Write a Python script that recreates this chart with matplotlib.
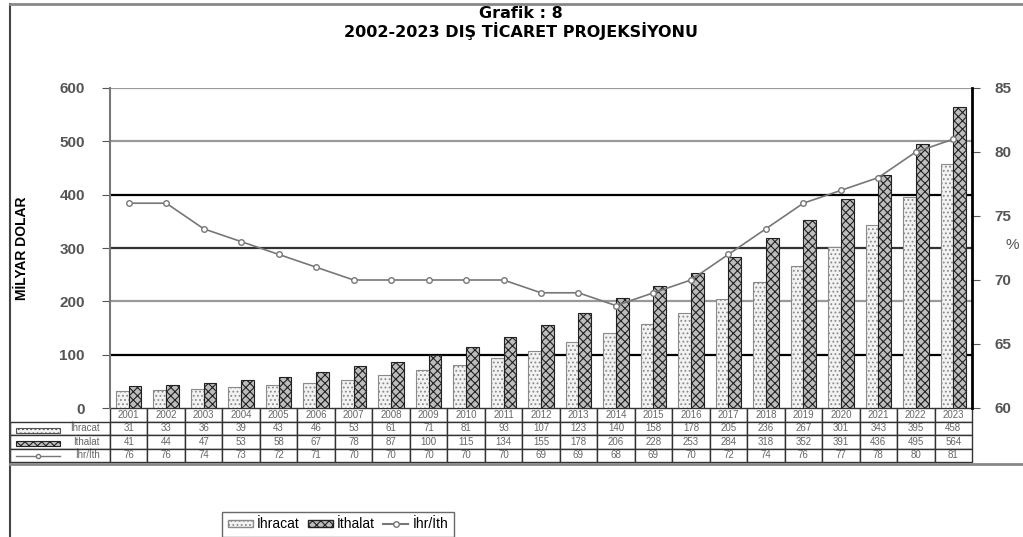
import numpy as np
import matplotlib.pyplot as plt
from matplotlib.patches import Rectangle
from matplotlib.lines import Line2D

plt.rcParams['font.family'] = ['Liberation Sans', 'DejaVu Sans']
plt.rcParams['hatch.linewidth'] = 0.8

years = [str(y) for y in range(2001, 2024)]
ihracat = [31, 33, 36, 39, 43, 46, 53, 61, 71, 81, 93, 107, 123, 140, 158, 178, 205, 236, 267, 301, 343, 395, 458]
ithalat = [41, 44, 47, 53, 58, 67, 78, 87, 100, 115, 134, 155, 178, 206, 228, 253, 284, 318, 352, 391, 436, 495, 564]
oran = [76, 76, 74, 73, 72, 71, 70, 70, 70, 70, 70, 69, 69, 68, 69, 70, 72, 74, 76, 77, 78, 80, 81]
row_names = ['İhracat', 'İthalat', 'İhr/İth']

fig = plt.figure(figsize=(10.23, 5.37), dpi=100)
ax = fig.add_axes([110 / 1023, 1 - 408 / 537, 862 / 1023, 320 / 537])
x = np.arange(len(years))
w = 0.34

# grid lines (alternating dark / grey like the original)
for val, col in [(100, 'black'), (200, '#999999'), (300, '#333333'), (400, 'black'), (500, '#999999'), (600, '#999999')]:
    ax.axhline(val, color=col, lw=1.6, zorder=0)

ax.bar(x - w / 2, ihracat, w, facecolor='#f2f2f2', edgecolor='#8a8a8a', hatch='....', lw=0.8, zorder=2)
ax.bar(x + w / 2, ithalat, w, facecolor='#bdbdbd', edgecolor='#222222', hatch='xxxx', lw=0.8, zorder=2)
ax.set_xlim(-0.5, len(years) - 0.5)
ax.set_ylim(0, 600)
ax.set_yticks(range(0, 601, 100))
ax.set_xticks([])
ax.tick_params(axis='y', labelsize=11, colors='#555555', length=6, pad=12)
for t in ax.get_yticklabels():
    t.set_fontweight('bold')
ax.set_ylabel('MİLYAR DOLAR', fontsize=10, fontweight='bold', labelpad=22)
for s in ['top', 'bottom']:
    ax.spines[s].set_visible(False)
ax.spines['left'].set_color('#777777')
ax.spines['left'].set_linewidth(1.5)
ax.spines['right'].set_visible(False)

ax2 = ax.twinx()
ax2.plot(x, oran, color='#777777', lw=1.2, marker='o', ms=4, mfc='white', mec='#777777', zorder=3)
ax2.set_ylim(60, 85)
ax2.set_yticks(range(60, 86, 5))
ax2.tick_params(axis='y', labelsize=11, colors='#555555', length=6, pad=10)
for t in ax2.get_yticklabels():
    t.set_fontweight('bold')
for s in ['top', 'bottom', 'left']:
    ax2.spines[s].set_visible(False)
ax2.spines['right'].set_color('black')
ax2.spines['right'].set_linewidth(2)
fig.text(1012 / 1023, 1 - 245 / 537, '%', fontsize=11, color='#555555', ha='center', va='center')

# data table under the chart
cells = [[name] + [str(v) for v in vals] for name, vals in zip(row_names, [ihracat, ithalat, oran])]
tbl = ax.table(cellText=cells, colLabels=[''] + years, cellLoc='center',
               bbox=[-100 / 862, -54 / 320, 962 / 862, 54 / 320])
tbl.auto_set_font_size(False)
tbl.set_fontsize(7)
col_w = 862 / len(years)
for (r, c), cell in tbl.get_celld().items():
    cell.set_width(100 if c == 0 else col_w)
    cell.set_edgecolor('#333333')
    cell.set_linewidth(1.0)
    cell.get_text().set_color('#666666')
    if r == 0 and c == 0:
        cell.set_edgecolor('white')
    if c == 0 and r > 0:
        cell.set_text_props(ha='right')
        cell._loc = 'right'

# small legend keys inside the row-label column
key_y = [1 - 430 / 537, 1 - 443 / 537, 1 - 456 / 537]
fig.add_artist(Rectangle((16 / 1023, key_y[0] - 2.5 / 537), 44 / 1023, 5 / 537, transform=fig.transFigure,
                         facecolor='#f2f2f2', edgecolor='#555555', hatch='....', lw=0.8))
fig.add_artist(Rectangle((16 / 1023, key_y[1] - 2.5 / 537), 44 / 1023, 5 / 537, transform=fig.transFigure,
                         facecolor='#bdbdbd', edgecolor='#222222', hatch='xxxx', lw=0.8))
fig.add_artist(Line2D([16 / 1023, 60 / 1023], [key_y[2], key_y[2]], color='#777777', lw=1))
fig.add_artist(Line2D([38 / 1023], [key_y[2]], color='#777777', marker='o', ms=3, mfc='white'))

# title
fig.text(521 / 1023, 1 - 14 / 537, 'Grafik : 8', fontsize=11.5, fontweight='bold', family='DejaVu Sans',
         ha='center', va='center')
fig.text(521 / 1023, 1 - 31 / 537, '2002-2023 DIŞ TİCARET PROJEKSİYONU', fontsize=11.5, fontweight='bold',
         family='DejaVu Sans', ha='center', va='center')

# outer frame lines
fig.add_artist(Line2D([10 / 1023, 10 / 1023], [0, 1 - 4 / 537], color='#444444', lw=1.5))
fig.add_artist(Line2D([10 / 1023, 1], [1 - 4 / 537, 1 - 4 / 537], color='#888888', lw=2))
fig.add_artist(Line2D([10 / 1023, 1], [1 - 464 / 537, 1 - 464 / 537], color='#888888', lw=2))

handles = [Rectangle((0, 0), 1, 1, facecolor='#f2f2f2', edgecolor='#8a8a8a', hatch='....'),
           Rectangle((0, 0), 1, 1, facecolor='#bdbdbd', edgecolor='#222222', hatch='xxxx'),
           Line2D([0], [0], color='#777777', marker='o', ms=4, mfc='white')]
fig.legend(handles, row_names, ncol=3, loc='lower left',
           bbox_to_anchor=(222 / 1023, 0), fontsize=10, frameon=True, fancybox=False,
           edgecolor='#444444', handlelength=1.8, handleheight=0.5, handletextpad=0.3,
           columnspacing=0.6, borderpad=0.4, borderaxespad=0)

fig.savefig('out.png', dpi=100)
plt.close()
